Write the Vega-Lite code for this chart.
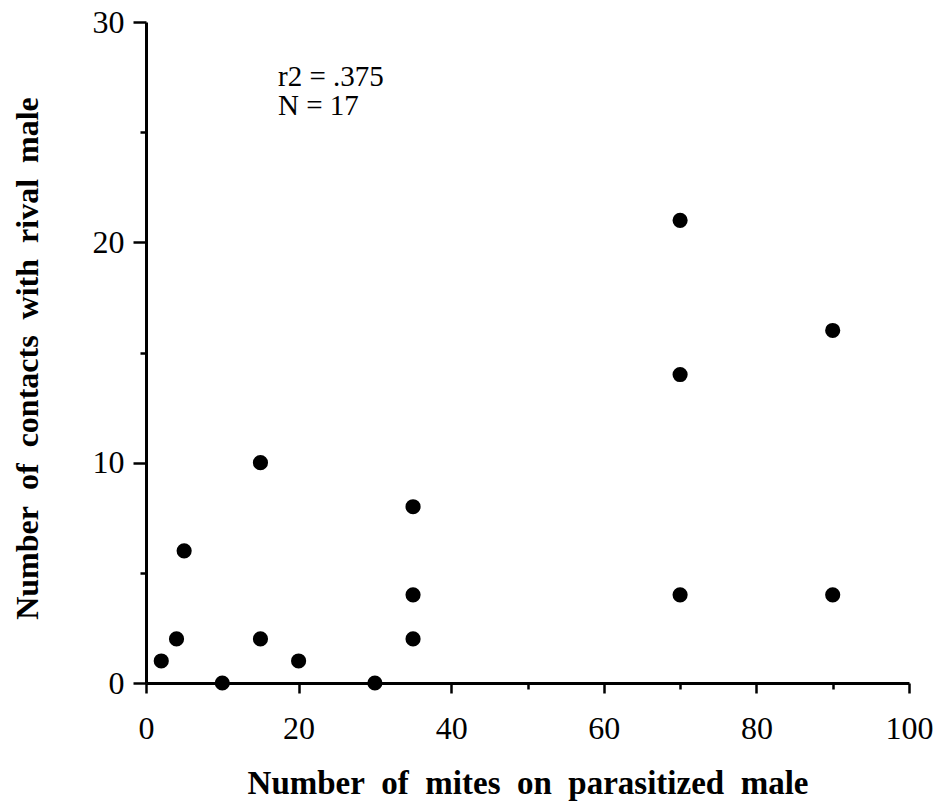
{
  "$schema": "https://vega.github.io/schema/vega-lite/v6.json",
  "width": 763,
  "height": 661,
  "autosize": {"type": "none"},
  "padding": {"left": 146, "top": 22, "right": 30, "bottom": 118},
  "background": "white",
  "config": {
    "view": {"stroke": null},
    "axis": {
      "grid": false,
      "domainColor": "black",
      "domainWidth": 3,
      "tickColor": "black",
      "tickWidth": 2.5,
      "labelFont": "Liberation Serif",
      "labelFontSize": 32,
      "labelColor": "black",
      "labelFlush": false,
      "titleFont": "Liberation Serif",
      "titleFontWeight": "bold",
      "titleColor": "black"
    }
  },
  "layer": [
    {
      "data": {
        "values": [
          {"mites": 2, "contacts": 1},
          {"mites": 4, "contacts": 2},
          {"mites": 5, "contacts": 6},
          {"mites": 10, "contacts": 0},
          {"mites": 15, "contacts": 2},
          {"mites": 15, "contacts": 10},
          {"mites": 20, "contacts": 1},
          {"mites": 30, "contacts": 0},
          {"mites": 35, "contacts": 8},
          {"mites": 35, "contacts": 4},
          {"mites": 35, "contacts": 2},
          {"mites": 70, "contacts": 21},
          {"mites": 70, "contacts": 14},
          {"mites": 70, "contacts": 4},
          {"mites": 90, "contacts": 16},
          {"mites": 90, "contacts": 4}
        ]
      },
      "mark": {"type": "point", "shape": "circle", "filled": true, "color": "black", "opacity": 1, "size": 230},
      "encoding": {
        "x": {
          "field": "mites", "type": "quantitative",
          "scale": {"domain": [0, 100], "nice": false, "zero": false},
          "axis": {
            "title": "Number\u00a0 of\u00a0 mites\u00a0 on\u00a0 parasitized\u00a0 male",
            "titleFontSize": 33,
            "values": [0, 10, 20, 30, 40, 50, 60, 70, 80, 90, 100],
            "labelExpr": "datum.value % 20 === 0 ? datum.label : ''",
            "tickSize": {"condition": {"test": "datum.value % 20 === 0", "value": 10}, "value": 6},
            "labelPadding": 20,
            "titleY": 110,
            "titleBaseline": "alphabetic"
          }
        },
        "y": {
          "field": "contacts", "type": "quantitative",
          "scale": {"domain": [0, 30], "nice": false},
          "axis": {
            "title": "Number\u00a0 of\u00a0 contacts\u00a0 with\u00a0 rival\u00a0 male",
            "titleFontSize": 32,
            "values": [0, 5, 10, 15, 20, 25, 30],
            "labelExpr": "datum.value % 10 === 0 ? datum.label : ''",
            "tickSize": {"condition": {"test": "datum.value % 10 === 0", "value": 13}, "value": 6},
            "labelPadding": 9,
            "titleX": -109,
            "titleY": 336,
            "titleBaseline": "alphabetic"
          }
        }
      }
    },
    {
      "data": {
        "values": [
          {"x": 17.3, "y": 27.1, "label": "r2 = .375\nN = 17"}
        ]
      },
      "mark": {"type": "text", "font": "Liberation Serif", "fontSize": 29, "lineHeight": 29, "lineBreak": "\n", "align": "left", "baseline": "alphabetic", "color": "black"},
      "encoding": {
        "x": {"field": "x", "type": "quantitative"},
        "y": {"field": "y", "type": "quantitative"},
        "text": {"field": "label"}
      }
    }
  ]
}
